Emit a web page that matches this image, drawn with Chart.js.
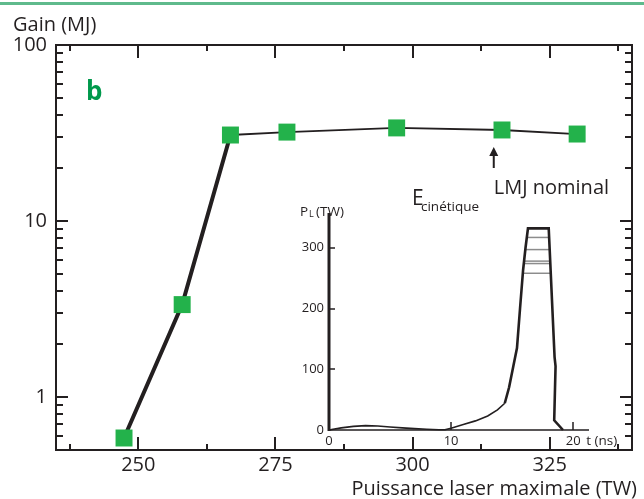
<!DOCTYPE html>
<html><head><meta charset="utf-8">
<script src="https://cdn.jsdelivr.net/npm/chart.js@4.4.0/dist/chart.umd.min.js"></script>
<style>
html,body{margin:0;padding:0;background:#fff;}
#wrap{position:relative;width:644px;height:499px;overflow:hidden;}
#main{position:absolute;left:0;top:0;}
#inset{position:absolute;left:280px;top:195px;}
</style></head><body>
<div id="wrap"><canvas id="main" width="644" height="499"></canvas><canvas id="inset" width="350" height="260"></canvas></div>
<script>
// ---- Main chart data ----
const gainX = [247.4, 258.0, 266.8, 277.1, 297.1, 316.3, 330.0];   // Puissance laser maximale (TW)
const gainY = [0.585, 3.35, 30.8, 32.0, 33.8, 32.9, 31.2];         // Gain (MJ)
const xTickLabels = [250, 275, 300, 325];
const xMinorTicks = [237.5, 262.5, 287.5, 312.5, 337.5];
const yTickLabels = [1, 10, 100];
const yMinorTicks = [0.6, 0.7, 0.8, 0.9, 2, 3, 4, 5, 6, 7, 8, 9, 20, 30, 40, 50, 60, 70, 80, 90];
const lmjNominalX = 314.8;

// ---- Inset data (laser pulse) ----
const pulseT = [0, 1, 2, 3, 4, 5, 6, 7, 8, 9, 9.5, 10, 11, 12, 13, 13.8, 14.4, 14.75, 15.1, 15.4, 15.65, 15.9, 16.1, 16.3, 18.0, 18.48, 18.56, 18.45, 19.17];
const pulseP = [0, 3.5, 6, 7.2, 6.5, 5, 3.5, 2.3, 1.2, 0.3, 0.5, 3, 9, 15, 23, 33, 44, 70, 105, 135, 200, 263, 300, 332, 332, 120, 105, 16, 0];
const levelP = [317, 297, 278, 274, 258];
const levelTLeft = [16.21, 16.1, 15.99, 15.96, 15.87];
const levelTRight = [18.03, 18.08, 18.12, 18.13, 18.17];
const insetXTicks = [0, 10, 20];
const insetYTicks = [0, 100, 200, 300];

const INK = '#231f20';
const GREEN = '#23b24b';
const FONT = "'Open Sans', sans-serif";

const framePlugin = {
  id: 'frame',
  afterDraw(chart) {
    const {ctx, chartArea: a, scales: {x, y}} = chart;
    ctx.save();
    // top green rule
    ctx.fillStyle = '#5fba8c';
    ctx.fillRect(0, 2, 644, 3);
    ctx.strokeStyle = INK;
    ctx.lineWidth = 2;
    ctx.strokeRect(a.left, a.top, a.right - a.left, a.bottom - a.top);
    ctx.beginPath();
    const xt = (v, len) => {
      const px = Math.round(x.getPixelForValue(v));
      ctx.moveTo(px, a.bottom); ctx.lineTo(px, a.bottom - len);
      ctx.moveTo(px, a.top); ctx.lineTo(px, a.top + len);
    };
    xTickLabels.forEach(v => xt(v, 13));
    xMinorTicks.forEach(v => xt(v, 6));
    const yt = (v, len) => {
      const py = Math.round(y.getPixelForValue(v));
      ctx.moveTo(a.left, py); ctx.lineTo(a.left + len, py);
      ctx.moveTo(a.right, py); ctx.lineTo(a.right - len, py);
    };
    yTickLabels.forEach(v => yt(v, 12));
    yMinorTicks.forEach(v => yt(v, 7));
    ctx.stroke();

    // texts
    ctx.fillStyle = INK;
    ctx.textBaseline = 'alphabetic';
    ctx.font = "20px " + FONT;
    ctx.textAlign = 'left';
    ctx.fillText('Gain (MJ)', 13, 31);
    ctx.textAlign = 'right';
    ctx.fillText('Puissance laser maximale (TW)', 637, 495);
    ctx.textAlign = 'left';
    ctx.font = "bold 26px " + FONT;
    ctx.fillStyle = '#00994c';
    ctx.fillText('b', 86, 100);

    // LMJ nominal arrow
    ctx.fillStyle = INK;
    const ax = x.getPixelForValue(lmjNominalX);
    ctx.lineWidth = 2;
    ctx.beginPath(); ctx.moveTo(ax, 168); ctx.lineTo(ax, 154); ctx.stroke();
    ctx.beginPath(); ctx.moveTo(ax, 147); ctx.lineTo(ax - 4.5, 156); ctx.lineTo(ax + 4.5, 156); ctx.closePath(); ctx.fill();
    ctx.font = "20px " + FONT;
    ctx.fillText('LMJ nominal', ax, 194);
    ctx.font = "21px " + FONT;
    ctx.fillText('E', 412, 205);
    ctx.font = "13.5px " + FONT;
    ctx.fillText('cinétique', 421, 211);
    ctx.restore();
  }
};

new Chart(document.getElementById('main'), {
  type: 'line',
  data: {
    datasets: [{
      data: gainX.map((v, i) => ({x: v, y: gainY[i]})),
      borderColor: INK,
      borderWidth: 1.8,
      segment: { borderWidth: c => (c.p0DataIndex < 2 ? 4 : 1.8) },
      pointStyle: 'rect',
      pointRadius: 12,
      pointHoverRadius: 12,
      pointBackgroundColor: GREEN,
      pointBorderWidth: 0,
      tension: 0,
      clip: false
    }]
  },
  options: {
    responsive: false,
    animation: false,
    events: [],
    layout: { padding: { left: 0, top: 45, right: 11, bottom: 0 } },
    plugins: { legend: { display: false }, tooltip: { enabled: false } },
    scales: {
      x: {
        type: 'linear', min: 235, max: 340,
        afterFit: s => { s.height = 49; },
        afterBuildTicks: s => { s.ticks = xTickLabels.map(v => ({value: v})); },
        grid: { display: false, drawTicks: false },
        border: { display: false },
        ticks: { font: { family: FONT, size: 20 }, color: INK, padding: 3, maxRotation: 0, autoSkip: false, callback: v => String(v) }
      },
      y: {
        type: 'logarithmic', min: 0.5, max: 100,
        afterFit: s => { s.width = 56; },
        afterBuildTicks: s => { s.ticks = yTickLabels.map(v => ({value: v})); },
        grid: { display: false, drawTicks: false },
        border: { display: false },
        ticks: { font: { family: FONT, size: 20 }, color: INK, padding: 9, autoSkip: false, callback: v => String(v) }
      }
    }
  },
  plugins: [framePlugin]
});

const insetPlugin = {
  id: 'insetFrame',
  afterDraw(chart) {
    const {ctx, chartArea: a, scales: {x, y}} = chart;
    ctx.save();
    ctx.strokeStyle = INK;
    ctx.lineWidth = 3;
    ctx.beginPath(); ctx.moveTo(a.left, a.top - 5); ctx.lineTo(a.left, a.bottom + 1); ctx.stroke();
    ctx.lineWidth = 1.5;
    ctx.beginPath(); ctx.moveTo(a.left, a.bottom); ctx.lineTo(a.right, a.bottom);
    insetYTicks.slice(1).forEach(v => { const py = Math.round(y.getPixelForValue(v)); ctx.moveTo(a.left, py); ctx.lineTo(a.left + 6, py); });
    insetXTicks.slice(1).forEach(v => { const px = Math.round(x.getPixelForValue(v)); ctx.moveTo(px, a.bottom); ctx.lineTo(px, a.bottom - 8); });
    ctx.stroke();
    ctx.fillStyle = INK;
    ctx.textBaseline = 'alphabetic';
    ctx.textAlign = 'left';
    ctx.font = "13.5px " + FONT;
    ctx.fillText('P', 20, 21);
    ctx.font = "9px " + FONT;
    ctx.fillText('L', 29, 22);
    ctx.font = "13.5px " + FONT;
    ctx.fillText('(TW)', 36, 21);
    const p20 = x.getPixelForValue(20);
    ctx.fillText('t (ns)', p20 + 13, 250);
    ctx.restore();
  }
};

new Chart(document.getElementById('inset'), {
  type: 'line',
  data: {
    datasets: [
      {
        data: pulseT.map((t, i) => ({x: t, y: pulseP[i]})),
        borderColor: INK,
        borderWidth: 1.6,
        segment: { borderWidth: c => (c.p0.parsed.x >= 14.3 ? 2.6 : 1.6) },
        pointRadius: 0,
        tension: 0,
        clip: false
      },
      ...levelP.map((p, i) => ({
        data: [{x: levelTLeft[i], y: p}, {x: levelTRight[i], y: p}],
        borderColor: '#8c8c8c',
        borderWidth: 1.5,
        pointRadius: 0
      }))
    ]
  },
  options: {
    responsive: false,
    animation: false,
    events: [],
    layout: { padding: { left: 0, top: 23, right: 41, bottom: 0 } },
    plugins: { legend: { display: false }, tooltip: { enabled: false } },
    scales: {
      x: {
        type: 'linear', min: 0, max: 21.3,
        afterFit: s => { s.height = 25; },
        afterBuildTicks: s => { s.ticks = insetXTicks.map(v => ({value: v})); },
        grid: { display: false, drawTicks: false },
        border: { display: false },
        ticks: { font: { family: FONT, size: 13 }, color: INK, padding: 3, maxRotation: 0, autoSkip: false, callback: v => String(v) }
      },
      y: {
        type: 'linear', min: 0, max: 349,
        afterFit: s => { s.width = 49; },
        afterBuildTicks: s => { s.ticks = insetYTicks.map(v => ({value: v})); },
        grid: { display: false, drawTicks: false },
        border: { display: false },
        ticks: { font: { family: FONT, size: 13 }, color: INK, padding: 5, autoSkip: false, callback: v => String(v) }
      }
    }
  },
  plugins: [insetPlugin]
});
</script>
</body></html>
